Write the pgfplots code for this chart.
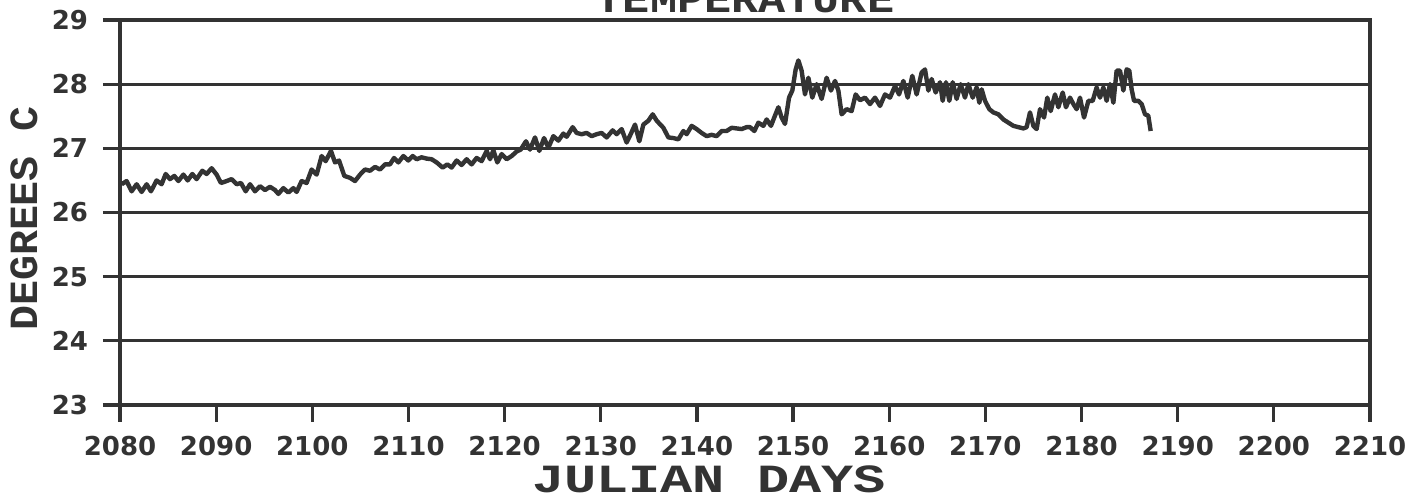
\documentclass[border=0pt]{standalone}
\usepackage{fontspec}
\usepackage{pgfplots}
\pgfplotsset{compat=1.18}
\setmainfont{DejaVu Sans}
\newfontfamily\xlabfont{Liberation Mono}[FakeStretch=1.34]
\newfontfamily\ylabfont{Liberation Mono}[FakeStretch=1.04]
\newfontfamily\titfont{Liberation Mono}[FakeStretch=1.13]
\newfontfamily\tickfont{DejaVu Sans}
\definecolor{ink}{HTML}{333333}
\begin{document}
\begin{tikzpicture}
\begin{axis}[
  scale only axis, width=625bp, height=192.5bp,
  xmin=2080, xmax=2210, ymin=23, ymax=29,
  xtick={2080,2090,...,2210}, ytick={23,24,...,29},
  xtick pos=left, ytick pos=left,
  ymajorgrids, major grid style={ink, line width=1.4bp},
  axis line style={ink, line width=2bp},
  tick align=outside, major tick length=8.5bp,
  tick style={ink, line width=1.6bp},
  /pgf/number format/1000 sep={},
  /pgf/number format/assume math mode=true,
  ticklabel style={font=\tickfont\bfseries\fontsize{13bp}{13bp}\selectfont, text=ink},
  xticklabel style={yshift=-3.5bp},
  yticklabel style={xshift=-4bp},
  xlabel={JULIAN DAYS}, ylabel={DEGREES C}, title={TEMPERATURE},
  every axis x label/.style={at={(axis description cs:0.5,0)}, xshift=-18bp, yshift=-37bp, anchor=center, inner sep=0pt,
     font=\xlabfont\bfseries\fontsize{20bp}{20bp}\selectfont, text=ink},
  every axis y label/.style={at={(axis description cs:0,0.5)}, xshift=-48bp, yshift=-3bp, rotate=90, anchor=center, inner sep=0pt,
     font=\ylabfont\bfseries\fontsize{20bp}{20bp}\selectfont, text=ink},
  every axis title/.style={at={(axis description cs:0.5,1)}, yshift=3.5bp, anchor=base, inner sep=0pt,
     font=\titfont\bfseries\fontsize{20bp}{20bp}\selectfont, text=ink},
]
\addplot[ink, line width=2.2bp, line join=round, mark=none] table {
x y
2080.17 26.44
2080.69 26.49
2081.21 26.33
2081.73 26.44
2082.25 26.32
2082.77 26.44
2083.22 26.33
2083.81 26.50
2084.33 26.44
2084.75 26.60
2085.20 26.52
2085.65 26.57
2086.07 26.49
2086.59 26.59
2087.04 26.50
2087.52 26.60
2087.97 26.52
2088.56 26.65
2089.01 26.60
2089.53 26.69
2090.05 26.59
2090.50 26.46
2091.09 26.49
2091.61 26.52
2092.13 26.44
2092.58 26.46
2093.07 26.33
2093.52 26.44
2094.04 26.33
2094.56 26.41
2095.08 26.35
2095.60 26.40
2096.12 26.35
2096.47 26.29
2096.99 26.38
2097.51 26.31
2098.03 26.38
2098.37 26.32
2098.89 26.49
2099.41 26.46
2099.93 26.67
2100.45 26.59
2100.97 26.88
2101.39 26.80
2101.94 26.96
2102.36 26.78
2102.78 26.81
2103.33 26.57
2103.92 26.54
2104.44 26.49
2104.96 26.59
2105.48 26.67
2106.00 26.65
2106.52 26.71
2107.04 26.67
2107.56 26.75
2108.08 26.75
2108.50 26.85
2108.95 26.78
2109.47 26.88
2109.99 26.81
2110.44 26.88
2110.85 26.83
2111.37 26.86
2111.89 26.84
2112.41 26.83
2112.93 26.78
2113.56 26.70
2114.04 26.75
2114.49 26.70
2115.01 26.81
2115.53 26.74
2116.05 26.83
2116.57 26.75
2117.09 26.85
2117.61 26.80
2118.13 26.96
2118.48 26.83
2118.83 26.97
2119.24 26.78
2119.69 26.91
2120.21 26.83
2120.73 26.88
2121.25 26.95
2121.67 26.98
2122.22 27.11
2122.64 26.98
2123.16 27.17
2123.61 26.96
2124.10 27.16
2124.55 27.01
2125.07 27.19
2125.59 27.12
2126.11 27.23
2126.45 27.18
2127.08 27.33
2127.49 27.24
2128.01 27.22
2128.53 27.24
2129.05 27.19
2129.57 27.22
2130.09 27.24
2130.61 27.17
2131.24 27.28
2131.65 27.22
2132.17 27.30
2132.69 27.09
2133.11 27.22
2133.56 27.37
2134.01 27.11
2134.43 27.37
2134.95 27.43
2135.40 27.53
2135.82 27.43
2136.51 27.32
2137.03 27.17
2137.55 27.16
2138.07 27.14
2138.59 27.27
2138.93 27.22
2139.45 27.35
2139.97 27.30
2140.49 27.24
2141.01 27.19
2141.53 27.21
2142.05 27.19
2142.57 27.27
2143.09 27.27
2143.61 27.32
2144.13 27.31
2144.65 27.30
2145.17 27.33
2145.52 27.33
2145.97 27.27
2146.39 27.40
2146.91 27.35
2147.25 27.45
2147.70 27.35
2148.12 27.51
2148.47 27.64
2148.81 27.48
2149.16 27.38
2149.58 27.79
2149.92 27.90
2150.27 28.23
2150.55 28.37
2150.89 28.21
2151.24 27.84
2151.59 28.10
2152.00 27.79
2152.45 28.00
2152.97 27.77
2153.49 28.10
2153.94 27.90
2154.36 28.05
2154.71 27.90
2155.05 27.53
2155.57 27.61
2156.09 27.58
2156.51 27.84
2156.96 27.75
2157.48 27.79
2158.00 27.69
2158.52 27.79
2159.04 27.66
2159.56 27.84
2160.08 27.79
2160.60 27.97
2161.02 27.84
2161.47 28.05
2161.92 27.79
2162.40 28.13
2162.85 27.84
2163.37 28.18
2163.72 28.23
2164.07 27.90
2164.41 28.08
2164.83 27.87
2165.28 28.03
2165.56 27.74
2165.90 28.03
2166.25 27.74
2166.60 28.03
2167.01 27.77
2167.43 28.00
2167.88 27.79
2168.23 28.00
2168.68 27.79
2169.09 27.95
2169.37 27.71
2169.61 27.92
2169.96 27.74
2170.41 27.61
2170.83 27.56
2171.35 27.53
2171.87 27.45
2172.39 27.40
2172.91 27.35
2173.43 27.33
2173.95 27.31
2174.29 27.33
2174.64 27.56
2174.99 27.35
2175.33 27.30
2175.68 27.61
2176.10 27.48
2176.44 27.79
2176.79 27.58
2177.24 27.84
2177.59 27.64
2178.04 27.87
2178.38 27.64
2178.80 27.79
2179.15 27.69
2179.49 27.61
2179.84 27.79
2180.26 27.48
2180.71 27.74
2181.16 27.74
2181.57 27.95
2181.92 27.79
2182.27 27.95
2182.61 27.74
2182.96 28.00
2183.31 27.71
2183.65 28.21
2184.00 28.21
2184.35 27.90
2184.69 28.23
2184.97 28.21
2185.21 27.92
2185.46 27.74
2185.91 27.74
2186.25 27.69
2186.60 27.53
2186.94 27.51
2187.19 27.27
};
\end{axis}
\pgfresetboundingbox
\path ([xshift=-60bp,yshift=-47bp]current axis.south west) rectangle ([xshift=29bp,yshift=10bp]current axis.north east);
\end{tikzpicture}
\end{document}
